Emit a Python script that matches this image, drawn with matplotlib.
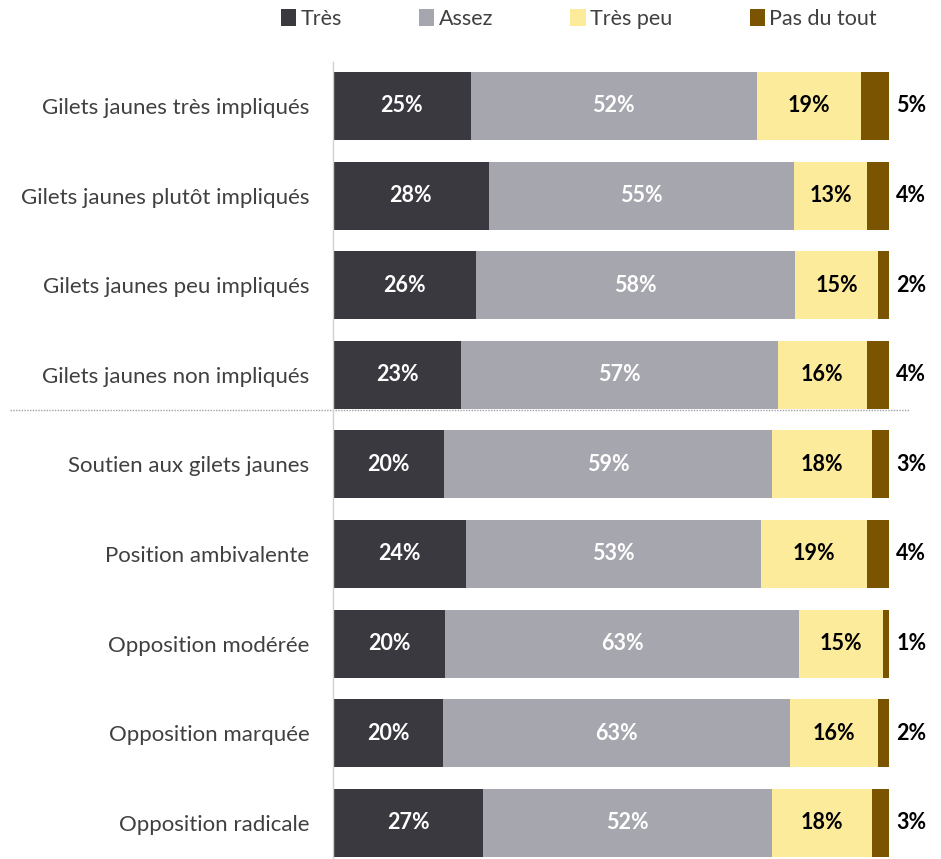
import matplotlib.pyplot as plt
import matplotlib.transforms as mtransforms
import numpy as np
from matplotlib.patches import Patch

categories = [
    "Gilets jaunes très impliqués",
    "Gilets jaunes plutôt impliqués",
    "Gilets jaunes peu impliqués",
    "Gilets jaunes non impliqués",
    "Soutien aux gilets jaunes",
    "Position ambivalente",
    "Opposition modérée",
    "Opposition marquée",
    "Opposition radicale",
]
tres = [25, 28, 26, 23, 20, 24, 20, 20, 27]
assez = [52, 55, 58, 57, 59, 53, 63, 63, 52]
tres_peu = [19, 13, 15, 16, 18, 19, 15, 16, 18]
pas_du_tout = [5, 4, 2, 4, 3, 4, 1, 2, 3]

series_names = ["Très", "Assez", "Très peu", "Pas du tout"]
COLORS = ["#3A393F", "#A6A6AE", "#FDEB9C", "#7A5400"]
TEXT_COLORS = ["white", "white", "black", "black"]

plt.rcParams["font.family"] = ["Lato", "DejaVu Sans"]

fig = plt.figure(figsize=(9.41, 8.59), dpi=100)
ax = fig.add_axes([333 / 941, 0.0, 1 - 333 / 941, (859 - 62) / 859])

data = np.array([tres, assez, tres_peu, pas_du_tout], dtype=float)
shares = data / data.sum(axis=0) * 100  # rounded labels, bars scaled to 100 %

y = np.arange(len(categories))
left = np.zeros(len(categories))
for k in range(4):
    vals = shares[k]
    ax.barh(y, vals, left=left, height=0.76, color=COLORS[k],
            edgecolor="none", label=series_names[k])
    for i, v in enumerate(vals):
        lab = f"{int(data[k, i])}%"
        if k < 3:
            ax.text(left[i] + v / 2, y[i], lab, ha="center", va="center",
                    fontsize=15.5, fontweight="bold", color=TEXT_COLORS[k])
        else:
            ax.text(left[i] + v + 1.3, y[i], lab, ha="left", va="center",
                    fontsize=15.5, fontweight="bold", color="black")
    left += vals

ax.set_xlim(0, (941 - 333) / 5.56)
ax.set_ylim((859 - 106) / 89.6, -(106 - 62) / 89.6)
ax.set_yticks(y)
ax.set_yticklabels(categories, fontsize=16, color="#404040")
ax.tick_params(axis="y", length=0, pad=17)
ax.set_xticks([])
for s in ["top", "right", "bottom"]:
    ax.spines[s].set_visible(False)
ax.spines["left"].set_color("#D0D0D0")
ax.spines["left"].set_linewidth(1)

# dotted separator between the two groups
trans = mtransforms.blended_transform_factory(fig.transFigure, ax.transData)
ax.plot([10 / 941, 910 / 941], [3.39, 3.39], transform=trans, clip_on=False,
        color="#A0A0A0", linestyle=(0, (1, 1)), linewidth=1)

handles = [Patch(facecolor=c, edgecolor="none") for c in COLORS]
fig.legend(handles, series_names, loc="upper center", bbox_to_anchor=(0.615, 1.012),
           ncol=4, frameon=False, fontsize=15.5, handlelength=0.7, handleheight=0.8,
           handletextpad=0.2, columnspacing=3.6, labelcolor="#404040")

fig.savefig("out.png", dpi=100)
